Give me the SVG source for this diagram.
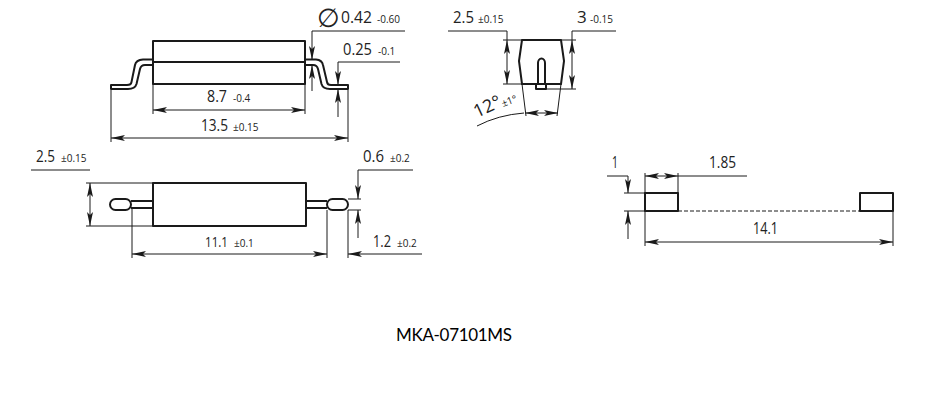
<svg xmlns="http://www.w3.org/2000/svg" width="930" height="401" viewBox="0 0 930 401">
<style>
.o{fill:none;stroke:#1a1a1a;stroke-width:2;stroke-linejoin:round}
.d{fill:none;stroke:#1a1a1a;stroke-width:1}
.a{marker-end:url(#ar)}
.b{marker-start:url(#al);marker-end:url(#ar)}
text{font-family:"Open Sans","Noto Sans",sans-serif;fill:#222}
.m{font-size:17px}
.s{font-size:10px}
</style>
<defs>
<marker id="ar" markerUnits="userSpaceOnUse" markerWidth="15" markerHeight="8" refX="14" refY="4" orient="auto"><path d="M0 1L14 4L0 7L3 4Z" fill="#1a1a1a"/></marker>
<marker id="al" markerUnits="userSpaceOnUse" markerWidth="15" markerHeight="8" refX="0" refY="4" orient="auto"><path d="M14 1L0 4L14 7L11 4Z" fill="#1a1a1a"/></marker>
</defs>
<rect width="930" height="401" fill="#fff"/>
<g id="side-view">
<rect class="o" x="153" y="41" width="152" height="43"/>
<path class="o" d="M153 62H305"/>
<path class="o" d="M153 59.500H143Q136 60 135 65L131.500 82Q131 85 127 85H111V89H128Q135 89 136.500 84L140 69Q141 65 145 65H153"/>
<path class="o" d="M305 59.500H316Q322 60 323 65L327 82Q327.500 85 331 85H348V89H330Q323 89 321.500 84L318 69Q317 65 313 65H305"/>
</g>
<g id="top-view">
<rect class="o" x="153" y="183" width="153" height="43"/>
<rect class="o" x="110" y="199" width="21" height="11" rx="5.500"/>
<rect class="o" x="327" y="199" width="21" height="11" rx="5.500"/>
<path class="o" d="M131 201H153M131 208H153M306 201H327M306 208H327" stroke-width="1.500"/>
</g>
<g id="end-view">
<path class="o" d="M522 40H561L564 61L561 84H522L519 61Z"/>
<path class="o" d="M538 84V63A3.500 4.500 0 0 1 545 63V84M536 84V89H546V84" stroke-width="1.500"/>
</g>
<g id="pad-layout">
<rect class="o" x="645" y="193" width="33" height="18"/>
<rect class="o" x="860" y="193" width="33" height="18"/>
</g>
<g id="connectors">
<path class="d" d="M153 84V114M305 84V114M111 90V142M348 90V142"/>
<path class="d b" d="M153 110H305"/>
<path class="d b" d="M111 138H348"/>
<path class="d a" d="M405 31H312V60"/>
<path class="d a" d="M312 91V65"/>
<path class="d a" d="M400 62H338V85"/>
<path class="d a" d="M338 117V89"/>
<path class="d" d="M86 183H153M86 226H153M348 199H361M348 210H361M132 208V258M327 210V258M348 210V258"/>
<path class="d" d="M31 170H90"/>
<path class="d b" d="M90 183V226"/>
<path class="d a" d="M413 170H358V199"/>
<path class="d a" d="M358 238V210"/>
<path class="d b" d="M132 254H327"/>
<path class="d a" d="M422 254H348"/>
<path class="d" d="M503 40H522M503 84H522M561 40H576M546 89H576M448 31H507V40M616 31H572V40"/>
<path class="d b" d="M507 40V84"/>
<path class="d b" d="M572 40V89"/>
<path class="d" d="M522 84L526 116M561 84L557 116M477 126Q498 115 524 113"/>
<path class="d b" d="M525 113H558"/>
<path class="d" d="M678 173V193M645 173V246M893 211V246M624 193H645M624 211H645M678 176H747M607 176H628"/>
<path class="d b" d="M645 176H678"/>
<path class="d a" d="M628 176V193"/>
<path class="d a" d="M628 239V211"/>
<path class="d b" d="M645 242H893"/>
<path class="d" stroke-dasharray="4 2" d="M678 211H860"/>
</g>
<g id="labels">
<text x="317" y="27" font-size="26" style="font-family:'DejaVu Sans',sans-serif">∅</text>
<text class="m" x="341" y="23" textLength="31" lengthAdjust="spacingAndGlyphs">0.42</text><text class="s" x="377" y="23">-0.60</text>
<text class="m" x="343" y="55" textLength="29" lengthAdjust="spacingAndGlyphs">0.25</text><text class="s" x="378" y="55">-0.1</text>
<text class="m" x="207" y="102" textLength="20" lengthAdjust="spacingAndGlyphs">8.7</text><text class="s" x="233" y="102">-0.4</text>
<text class="m" x="201" y="131" textLength="27" lengthAdjust="spacingAndGlyphs">13.5</text><text class="s" x="233" y="131">±0.15</text>
<text class="m" x="36" y="162" textLength="19" lengthAdjust="spacingAndGlyphs">2.5</text><text class="s" x="61" y="162">±0.15</text>
<text class="m" x="363" y="162" textLength="21" lengthAdjust="spacingAndGlyphs">0.6</text><text class="s" x="390" y="162">±0.2</text>
<text x="205" y="247" font-size="15" textLength="23" lengthAdjust="spacingAndGlyphs">11.1</text><text class="s" x="234" y="247">±0.1</text>
<text class="m" x="373" y="247" textLength="18" lengthAdjust="spacingAndGlyphs">1.2</text><text class="s" x="397" y="247">±0.2</text>
<text class="m" x="453" y="23" textLength="21" lengthAdjust="spacingAndGlyphs">2.5</text><text class="s" x="478" y="23">±0.15</text>
<text class="m" x="577" y="23">3</text><text class="s" x="590" y="23">-0.15</text>
<text font-size="18" transform="translate(477 118) rotate(-25)">12°</text>
<text class="s" transform="translate(503 107) rotate(-20)">±1°</text>
<text class="m" x="709" y="168" textLength="27" lengthAdjust="spacingAndGlyphs">1.85</text>
<text class="m" x="612" y="168" textLength="6" lengthAdjust="spacingAndGlyphs">1</text>
<text class="m" x="753" y="234" textLength="25" lengthAdjust="spacingAndGlyphs">14.1</text>
<text x="396" y="341" font-size="17" textLength="116" style="font-family:Lato,sans-serif;fill:#000">MKA-07101MS</text>
</g>
</svg>
